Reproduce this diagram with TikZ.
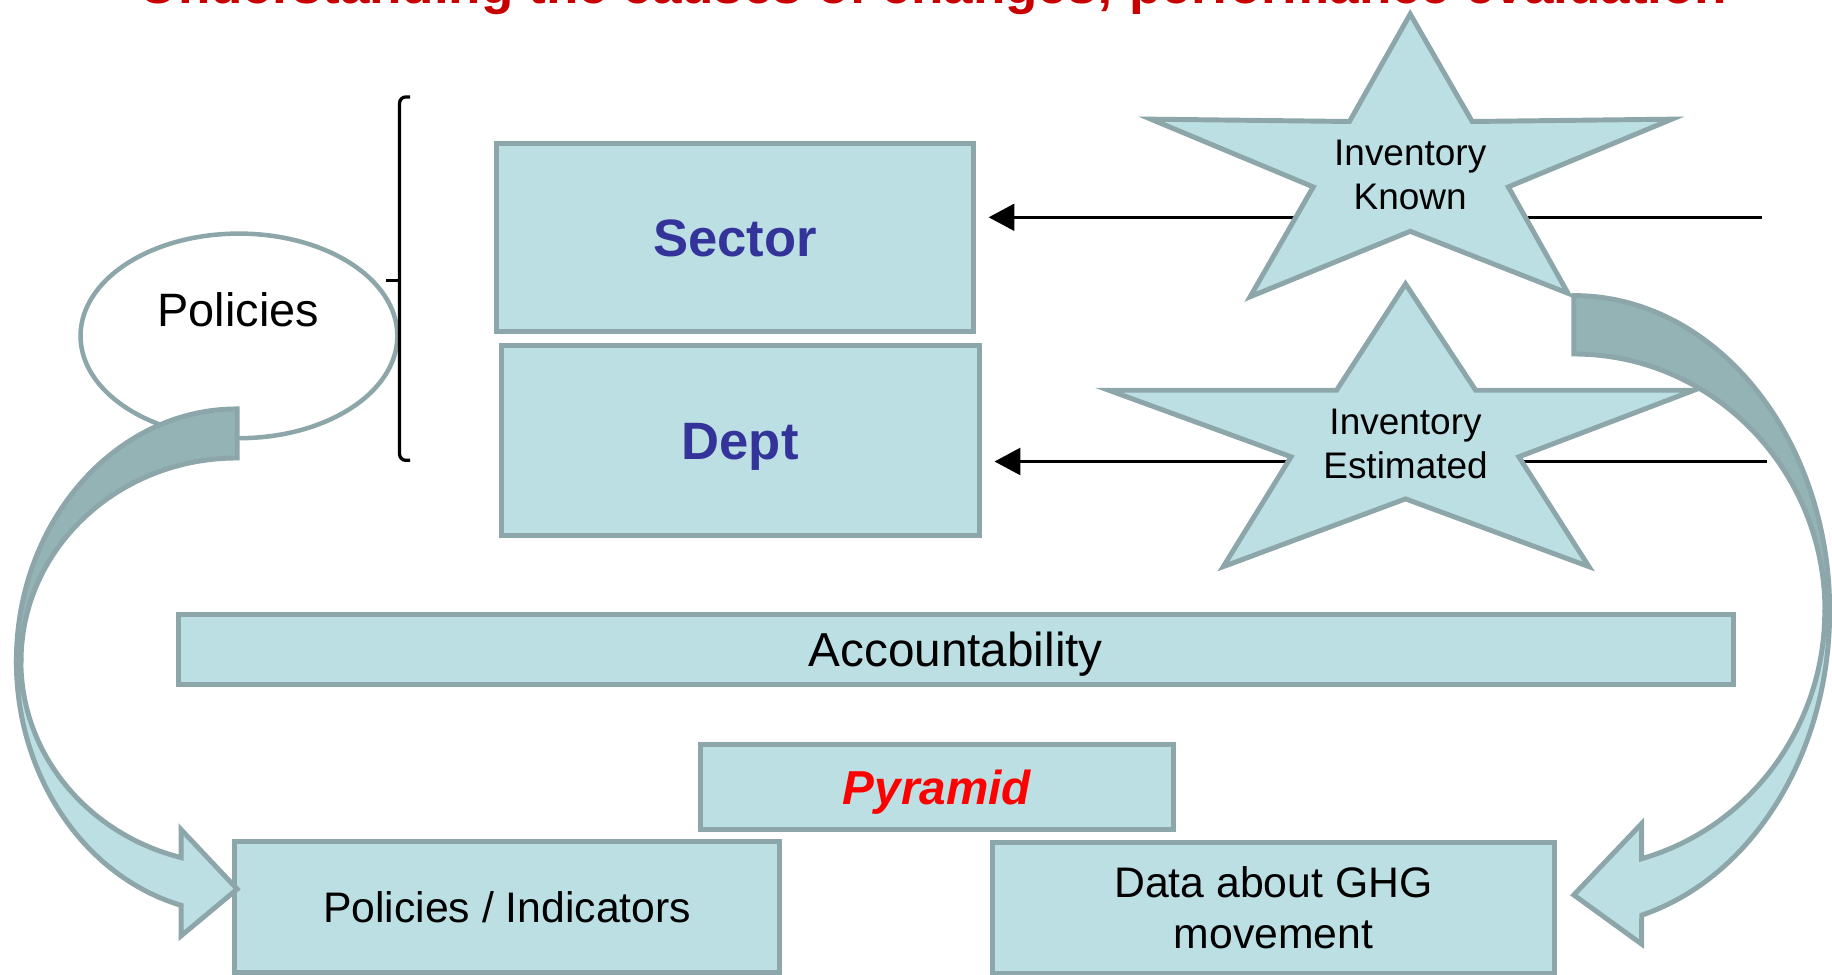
\documentclass[tikz,border=0pt]{standalone}
\usepackage{fontspec}
\setmainfont{Liberation Sans}
\usetikzlibrary{shapes.geometric,arrows.meta}
\definecolor{boxblue}{HTML}{BCDFE3}
\definecolor{edgegray}{HTML}{8CA6A9}
\definecolor{bandgray}{HTML}{94B3B5}
\definecolor{titlered}{HTML}{C80000}
\definecolor{deptblue}{HTML}{333399}

\begin{document}
\begin{tikzpicture}[x=0.01cm, y=-0.01cm,
    box/.style={draw=edgegray, fill=boxblue, line width=1.2pt, inner sep=0pt},
    oneline/.style={text height=0.93*#1, text depth=0.2*#1, font=\fontsize{#1}{#1}\selectfont},
    starfill/.style={draw=edgegray, fill=boxblue, line width=1.2pt},
    backband/.style={draw=edgegray, fill=bandgray, line width=1.2pt},
    frontband/.style={draw=edgegray, fill=boxblue, line width=1.2pt},
    feed/.style={line width=0.6pt, -{Triangle[length=0.22cm,width=0.23cm]}, shorten >=0.11cm}]
  \useasboundingbox (0,0) rectangle (1568,834);

  % title, cut at the top
  \node[anchor=base, inner sep=0pt, text=titlered, font=\fontsize{12.9}{15}\selectfont\bfseries] (title) at (799,3)
    {Understanding the causes of changes; performance evaluation};

  % policies and bracket
  \node[ellipse, draw=edgegray, line width=1.1pt, minimum width=2.71cm, minimum height=1.75cm, inner sep=0pt] (policies) at (204.5,287.5) {};
  \node[font=\fontsize{11.4}{13}\selectfont] (policiestxt) at (204,265) {Policies};
  \draw[line width=0.8pt, rounded corners=1.5] (351,83) -- (342,83) -- (342,394) -- (351,394);
  \draw[line width=0.8pt] (342,240) -- (330,240);

  % boxes
  \node[box, oneline=12.8pt, minimum width=4.08cm, minimum height=1.61cm, text=deptblue] (sector) at (629,203.5) {\bfseries Sector};
  \node[box, oneline=12.8pt, minimum width=4.09cm, minimum height=1.62cm, text=deptblue] (dept) at (633.5,377) {\bfseries Dept};
  \node[box, oneline=11.6pt, minimum width=13.30cm, minimum height=0.60cm] (account) at (818,556) {Accountability};
  \node[box, oneline=11.6pt, minimum width=4.04cm, minimum height=0.73cm, text=red] (pyramid) at (802,673.5) {\bfseries\itshape Pyramid};
  \node[box, oneline=10.4pt, minimum width=4.66cm, minimum height=1.12cm] (indicators) at (434,776) {Policies / Indicators};
  \node[box, minimum width=4.80cm, minimum height=1.12cm, align=center, font=\fontsize{10.4}{12.4}\selectfont] (ghgdata) at (1090,777) {Data about GHG\\movement};

  % lines behind the stars
  \coordinate (knownend) at (1508,186);
  \coordinate (estend) at (1512,395);
  \draw[feed] (knownend) -- (sector.east |- knownend);
  \draw[feed] (estend) -- (dept.east |- estend);

  % stars
  \draw[starfill] (1207,12) -- (1260,104) -- (1431,102) -- (1291,160) -- (1342,251) -- (1207,198)
    -- (1070,254) -- (1124,160) -- (985,102) -- (1155,104) -- cycle;
  \draw[starfill] (1203,243) -- (1263,334) -- (1450,334) -- (1300,391) -- (1360,485) -- (1203,427)
    -- (1047,485) -- (1105,391) -- (949,334) -- (1144,334) -- cycle;
  \node[align=center, font=\fontsize{9}{10.8}\selectfont] (known) at (1207,150) {Inventory\\Known};
  \node[align=center, font=\fontsize{9}{10.8}\selectfont] (estimated) at (1203,380) {Inventory\\Estimated};

  % curved arrow on the left
  \draw[backband] (203,350) arc[start angle=270, end angle=180, x radius=189, y radius=216]
    -- (18,566) arc[start angle=180, end angle=270, x radius=185, y radius=174] -- cycle;
  \draw[frontband] (14,566) arc[start angle=180, end angle=104.7, x radius=189, y radius=216]
    -- (155,801) -- (203,761) -- (155,710) -- (155,734)
    arc[start angle=105, end angle=180, x radius=185, y radius=174] -- cycle;

  % curved arrow on the right
  \draw[backband] (1347,253) arc[start angle=270, end angle=360, x radius=219, y radius=270]
    -- (1562,523) arc[start angle=360, end angle=270, x radius=215, y radius=220] -- cycle;
  \draw[frontband] (1566,523) arc[start angle=0, end angle=74.6, x radius=219, y radius=270]
    -- (1405,808) -- (1347,766) -- (1405,705) -- (1405,735)
    arc[start angle=74.3, end angle=0, x radius=215, y radius=220] -- cycle;
\end{tikzpicture}
\end{document}
